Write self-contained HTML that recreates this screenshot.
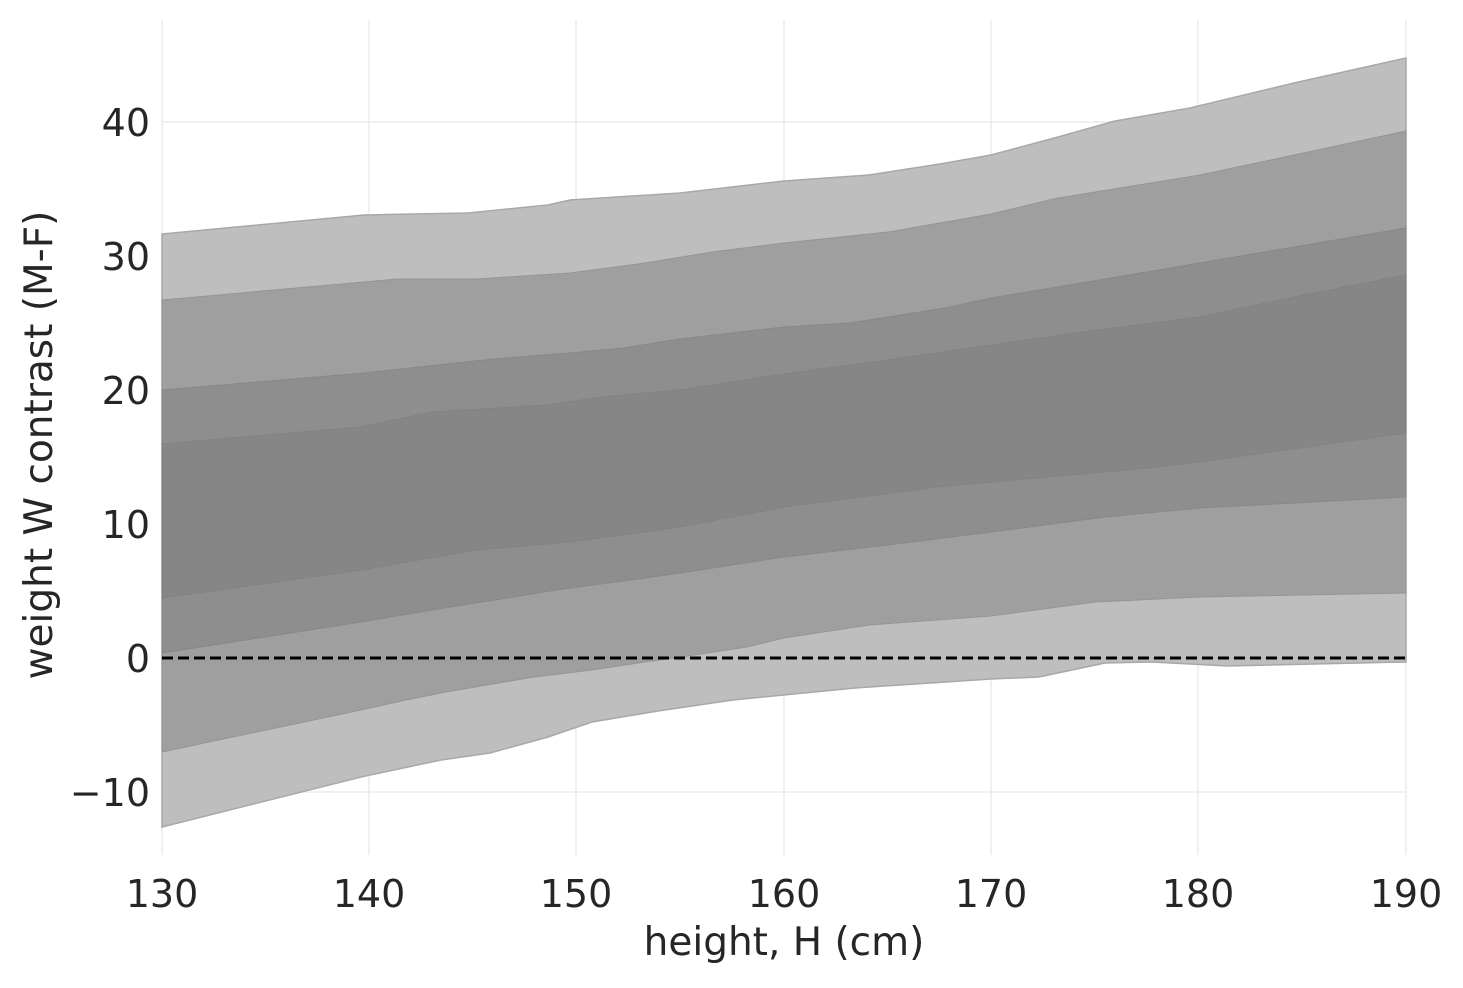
<!DOCTYPE html>
<html><head><style>body{margin:0;background:#fff}svg text{font-family:"DejaVu Sans","Liberation Sans",sans-serif;fill:#262626}</style></head>
<body>
<svg width="1463" height="983" viewBox="0 0 1463 983" xmlns="http://www.w3.org/2000/svg">
<g stroke="#ebebeb" stroke-width="1.5">
<line x1="162" y1="20" x2="162" y2="855"/><line x1="369" y1="20" x2="369" y2="855"/><line x1="576" y1="20" x2="576" y2="855"/><line x1="784" y1="20" x2="784" y2="855"/><line x1="991" y1="20" x2="991" y2="855"/><line x1="1198" y1="20" x2="1198" y2="855"/><line x1="1406" y1="20" x2="1406" y2="855"/>
<line x1="162" y1="122" x2="1406" y2="122"/><line x1="162" y1="256" x2="1406" y2="256"/><line x1="162" y1="390" x2="1406" y2="390"/><line x1="162" y1="524" x2="1406" y2="524"/><line x1="162" y1="792" x2="1406" y2="792"/>
</g>
<polygon fill="#bebebe" stroke="#a8a8a8" stroke-width="1.5" points="162,234 364,215 468,213 548,205 570,200 680,193 784,181 869,175 940,164 991,155 1058,137 1115,121 1190,108 1294,83 1406,58 1406,662 1228,666 1152,662 1105,663 1039,677 991,679 855,688 733,700 658,711 592,722 548,737 490,753 441,760 361,777 162,827"/>
<polygon fill="#9f9f9f" stroke="#959595" stroke-width="1" points="162,300 364,282 397,279 477,279 570,273 645,263 712,252 784,243 888,232 991,214 1058,198 1200,175 1294,155 1406,131 1406,593 1200,597 1096,602 991,616 869,625 784,638 747,647 681,657 645,662 592,670 534,677 446,692 406,700 361,710 162,752"/>
<polygon fill="#8e8e8e" stroke="#888" stroke-width="1" points="162,390 364,373 494,359 570,353 623,348 680,339 784,327 850,323 945,308 991,298 1105,279 1200,263 1294,247 1406,228 1406,497 1200,508 1105,517 991,532 888,545 784,557 680,573 645,578 556,590 432,610 361,622 162,653"/>
<polygon fill="#868686" stroke="#828282" stroke-width="1" points="162,444 361,427 432,412 548,405 601,397 680,390 784,374 888,360 991,345 1105,329 1200,317 1294,297 1406,275 1406,433 1200,462 1148,468 991,482 945,486 784,507 680,527 570,542 477,550 361,570 162,598"/>
<line x1="162" y1="658" x2="1406" y2="658" stroke="#000" stroke-width="3" stroke-dasharray="11,5"/>
<g font-size="38" text-anchor="end">
<text x="150" y="136">40</text><text x="150" y="270">30</text><text x="150" y="404">20</text><text x="150" y="538">10</text><text x="150" y="672">0</text><text x="150" y="806">−10</text>
</g>
<g font-size="38" text-anchor="middle">
<text x="162" y="907">130</text><text x="369" y="907">140</text><text x="576" y="907">150</text><text x="784" y="907">160</text><text x="991" y="907">170</text><text x="1198" y="907">180</text><text x="1406" y="907">190</text>
<text x="784" y="955" font-size="39">height, H (cm)</text>
<text transform="translate(52,445) rotate(-90)" font-size="39">weight W contrast (M-F)</text>
</g>
</svg>
</body></html>
